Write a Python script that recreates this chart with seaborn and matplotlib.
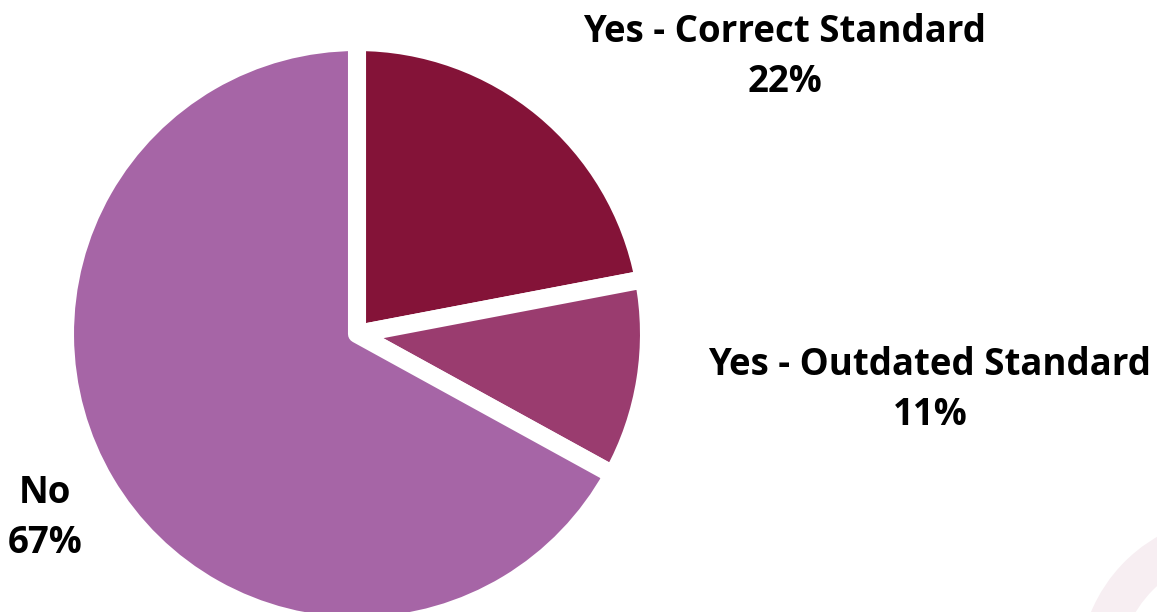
import matplotlib
matplotlib.use("Agg")
import matplotlib.pyplot as plt
from matplotlib.patches import Wedge
from matplotlib.transforms import IdentityTransform
import seaborn as sns

sns.set_style("white")
plt.rcParams['font.family'] = ['Open Sans', 'DejaVu Sans']

categories = ["Yes - Correct Standard", "Yes - Outdated Standard", "No"]
values = [22, 11, 67]
colors = ["#841338", "#9A3C6F", "#A665A6"]

W, H = 1157, 612
fig = plt.figure(figsize=(W / 100, H / 100), dpi=100)
fig.patch.set_facecolor("white")

# faint watermark arc bottom-right (pixel coordinates, origin bottom-left)
wm = Wedge((1235, H - 672), 156, 0, 360, width=40,
           transform=IdentityTransform(), facecolor="#F7EEF2", edgecolor="none")
fig.patches.append(wm)

cx, cy, r = 357, 334, 292
ax = fig.add_axes([(cx - r) / W, (H - cy - r) / H, 2 * r / W, 2 * r / H])
ax.pie(values, colors=colors, startangle=90, counterclock=False, radius=1,
       wedgeprops=dict(edgecolor="white", linewidth=13, joinstyle="round"))
ax.set_xlim(-1, 1)
ax.set_ylim(-1, 1)
ax.set_axis_off()

label_pos = [(785, 57), (930, 390), (45, 518)]
for cat, v, (x, y) in zip(categories, values, label_pos):
    fig.text(x / W, 1 - y / H, f"{cat}\n{v}%", ha="center", va="center",
             fontsize=26.4, fontweight="bold", color="black", linespacing=1.42)

fig.savefig("out.png", dpi=100, facecolor="white")
